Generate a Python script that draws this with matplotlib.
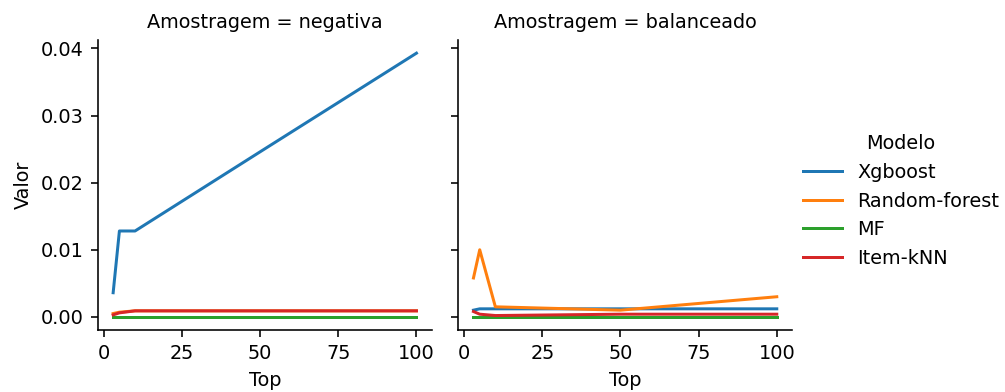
import pandas as pd
import seaborn as sns
import matplotlib
matplotlib.use("Agg")
import matplotlib.pyplot as plt

plt.rcParams["font.size"] = 9.6

# valores
top = [3, 5, 10, 50, 100]
modelos = ["Xgboost", "Random-forest", "MF", "Item-kNN"]
amostragens = ["negativa", "balanceado"]

neg_xgboost = [0.0036, 0.0128, 0.0128, 0.0246, 0.0393]
neg_rf = [0.0005, 0.0007, 0.0009, 0.0009, 0.0009]
neg_mf = [0.0, 0.0, 0.0, 0.0, 0.0]
neg_knn = [0.0003, 0.0006, 0.0009, 0.0009, 0.0009]

bal_xgboost = [0.0010, 0.0012, 0.0012, 0.0012, 0.0012]
bal_rf = [0.0058, 0.0100, 0.0015, 0.0010, 0.0030]
bal_mf = [0.0, 0.0, 0.0, 0.0, 0.0]
bal_knn = [0.0008, 0.0004, 0.0002, 0.0004, 0.0004]

valores = {
    "negativa": [neg_xgboost, neg_rf, neg_mf, neg_knn],
    "balanceado": [bal_xgboost, bal_rf, bal_mf, bal_knn],
}

linhas = []
for amostra in amostragens:
    for modelo, serie in zip(modelos, valores[amostra]):
        for t, v in zip(top, serie):
            linhas.append({"Top": t, "Valor": v, "Modelo": modelo, "Amostragem": amostra})
df = pd.DataFrame(linhas)

g = sns.relplot(data=df, x="Top", y="Valor", hue="Modelo", col="Amostragem",
                kind="line", hue_order=modelos, col_order=amostragens,
                palette="tab10", height=2.7, aspect=0.85)
g.fig.set_size_inches(1005 / 144, 392 / 144)
g.fig.subplots_adjust(left=0.0975, right=0.788, bottom=0.158, top=0.898, wspace=0.08)
g.set(yticks=[0.0, 0.01, 0.02, 0.03, 0.04], xticks=[0, 25, 50, 75, 100])
sns.move_legend(g, "center left", bbox_to_anchor=(0.782, 0.487), frameon=False)

g.fig.savefig("out.png", dpi=144)
